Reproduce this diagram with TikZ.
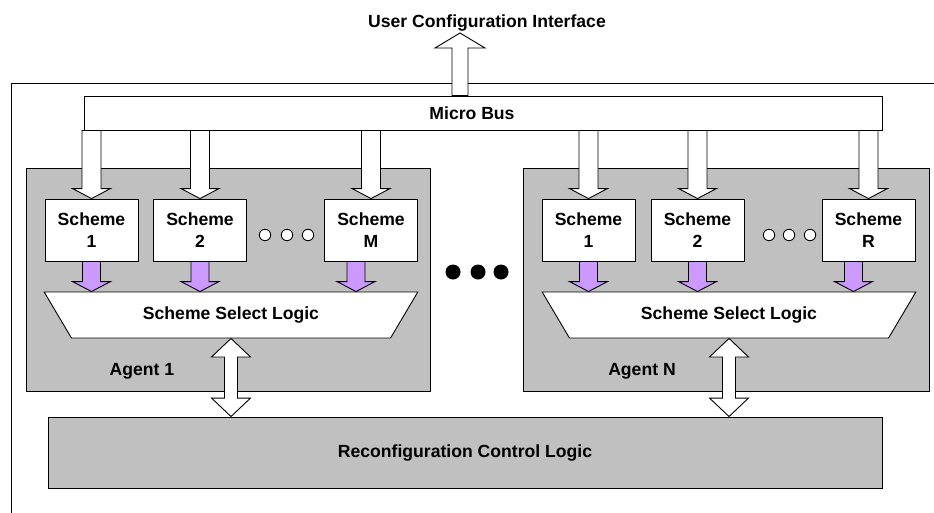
\documentclass[tikz,border=0pt]{standalone}
\usepackage{fontspec}
\setmainfont{Liberation Sans}
\usetikzlibrary{positioning,shapes.geometric,calc}

\definecolor{agentgray}{HTML}{C0C0C0}
\definecolor{selpurple}{HTML}{CC99FF}

% vertical block arrow: [fill]{shaft half width}{head half width}{head length}{tail}{tip}
\newcommand{\blockarrow}[6][white]{%
  \draw[fill=#1] let \p1=#5, \p2=#6, \p3=($#6!#4!#5$) in
    (\x2-#2,\y1) -- (\x2-#2,\y3) -- (\x2-#3,\y3) -- (\x2,\y2)
    -- (\x2+#3,\y3) -- (\x2+#2,\y3) -- (\x2+#2,\y1) -- cycle;}
% same, with a head at both ends
\newcommand{\bothwayarrow}[5]{%
  \draw[fill=white] let \p1=#4, \p2=#5, \p3=($#4!#3!#5$), \p4=($#5!#3!#4$) in
    (\x1,\y1) -- (\x1+#2,\y3) -- (\x1+#1,\y3) -- (\x1+#1,\y4) -- (\x1+#2,\y4) -- (\x1,\y2)
    -- (\x1-#2,\y4) -- (\x1-#1,\y4) -- (\x1-#1,\y3) -- (\x1-#2,\y3) -- cycle;}

\begin{document}
\begin{tikzpicture}[x=1pt,y=-1pt,line width=0.9pt,
    every node/.style={font=\bfseries\fontsize{17.6}{22}\selectfont},
    agent/.style={draw,fill=agentgray,minimum width=#1,minimum height=223,inner sep=0},
    scheme/.style={draw,fill=white,minimum width=93,minimum height=62,align=center,inner sep=0},
    selector/.style={draw,fill=white,trapezium,trapezium stretches=true,shape border rotate=180,
        trapezium left angle=56,trapezium right angle=56,minimum width=374,minimum height=46}]
    \useasboundingbox (0,0) rectangle (934,512);
    % chip outline, cut off at the right and bottom
    \draw (945,83) -- (11,83) -- (11,525);

    \node[draw,fill=white,minimum width=798,minimum height=34,inner sep=0,
        label={[xshift=-11pt]center:Micro Bus}] (bus) at (483,113) {};

    \node[agent=404] (agent1) at (228,279.5) {};
    \node[agent=406] (agentN) at (726,279.5) {};

    % schemes of agent 1 and agent N
    \foreach \nm/\px/\lab in {s1/91.5/1, s2/200/2, sM/371/M, t1/588.5/1, t2/697.5/2, tR/868.5/R}
        \node[scheme] (\nm) at (\px,230) {Scheme\\\lab};
    \foreach \px in {265,287,308,769,789,810}
        \draw[fill=white] (\px,235) circle (5.7);

    \node[selector] (sel1) at (231,315) {Scheme Select Logic};
    \node[selector] (selN) at (729,315) {Scheme Select Logic};

    \node (lbl1) at (142,371) {Agent 1};
    \node (lblN) at (642,371) {Agent N};

    % more agents in between
    \foreach \px in {453,478,501}
        \fill (\px,272) circle (7.5);

    \node[draw,fill=agentgray,minimum width=834,minimum height=71] (rcl) at (465,452.5)
        {Reconfiguration Control Logic};

    \node[anchor=south,inner sep=1pt] (ucfg) at (487,33) {User Configuration Interface};

    % bus to schemes
    \foreach \s in {s1,s2,sM,t1,t2,tR} {
        \blockarrow{9.5pt}{19pt}{10pt}{(\s.north |- bus.south)}{(\s.north)}
    }
    % schemes to select logic
    \coordinate (pM) at ($(sM.south)+(-15,0)$);
    \coordinate (pR) at ($(tR.south)+(-15,0)$);
    \foreach \s/\sel in {s1/sel1, s2/sel1, pM/sel1, t1/selN, t2/selN, pR/selN} {
        \blockarrow[selpurple]{9pt}{19pt}{10pt}{(\s.south)}{(\s.south |- \sel.north)}
    }
    % select logic <-> reconfiguration control
    \bothwayarrow{6.5pt}{19.5pt}{18.5pt}{(sel1.south)}{(sel1.south |- rcl.north)}
    \bothwayarrow{6.5pt}{19.5pt}{18.5pt}{(selN.south)}{(selN.south |- rcl.north)}

    \coordinate (ucin) at ($(bus.north)+(-23,0)$);
    \blockarrow{8pt}{25pt}{15pt}{(ucin)}{(ucin |- ucfg.south)}
\end{tikzpicture}
\end{document}
